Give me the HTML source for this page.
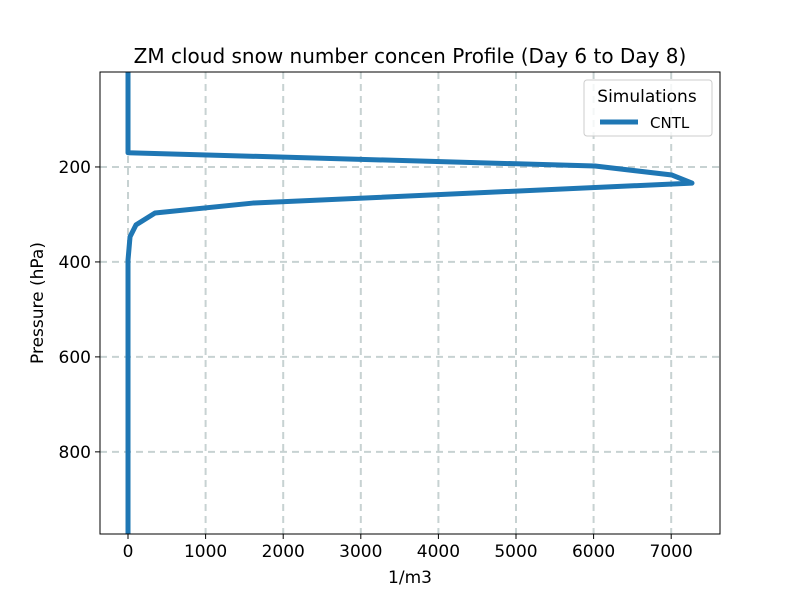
<!DOCTYPE html>
<html><head><meta charset="utf-8"><style>
body{margin:0;background:#fff;font-family:"Liberation Sans","DejaVu Sans",sans-serif}
</style></head><body>
<svg width="800" height="600" xmlns="http://www.w3.org/2000/svg" font-family="DejaVu Sans, Liberation Sans, sans-serif">
<g id="grid"></g>
<g id="axes"></g>
<path id="line" fill="none" stroke="#1f77b4" stroke-width="5" stroke-linejoin="round"/>
<rect x="100" y="72" width="620" height="462" fill="none" stroke="#000" stroke-width="1"/>
<text x="410" y="63" font-size="20" text-anchor="middle">ZM cloud snow number concen Profile (Day 6 to Day 8)</text>
<text x="410" y="583" font-size="17" text-anchor="middle">1/m3</text>
<text transform="translate(43,303) rotate(-90)" font-size="17" text-anchor="middle">Pressure (hPa)</text>
<g>
<rect x="584" y="80" width="128" height="56" rx="3" fill="#fff" fill-opacity="0.8" stroke="#ccc"/>
<text x="647" y="102" font-size="17" text-anchor="middle">Simulations</text>
<line x1="600" y1="122" x2="638" y2="122" stroke="#1f77b4" stroke-width="5"/>
<text x="650" y="128" font-size="15">CNTL</text>
</g>
</svg>
<script>
const pressures=[1,170,198,217,234,276,297,322,347,396,500,700,973];
const values=[0,0,6018,7010,7268,1611,348,103,26,0,0,0,0];
const xTicks=[0,1000,2000,3000,4000,5000,6000,7000];
const yTicks=[200,400,600,800];
const xMin=-361,xMax=7629,yMin=0,yMax=973;
const L=100,R=720,T=72,B=534;
const sx=v=>L+(v-xMin)/(xMax-xMin)*(R-L);
const sy=p=>T+(p-yMin)/(yMax-yMin)*(B-T);
const NS="http://www.w3.org/2000/svg";
const grid=document.getElementById('grid'),axes=document.getElementById('axes');
function mk(tag,attrs,parent){const e=document.createElementNS(NS,tag);for(const k in attrs)e.setAttribute(k,attrs[k]);parent.appendChild(e);return e;}
xTicks.forEach(t=>{const x=sx(t);
const g=mk('line',{x1:x,x2:x,y1:T,y2:B,stroke:'#b0bfbf','stroke-width':2,'stroke-dasharray':'7,5','opacity':0.7},grid);


mk('line',{x1:x,x2:x,y1:B,y2:B+5,stroke:'#000'},axes);
const tx=mk('text',{x:x,y:B+23,'font-size':17,'text-anchor':'middle'},axes);tx.textContent=t;

});
yTicks.forEach(t=>{const y=sy(t);
const g=mk('line',{x1:L,x2:R,y1:y,y2:y,stroke:'#b0bfbf','stroke-width':2,'stroke-dasharray':'7,5','opacity':0.7},grid);


mk('line',{x1:L-5,x2:L,y1:y,y2:y,stroke:'#000'},axes);
const tx=mk('text',{x:L-9,y:y+6,'font-size':17,'text-anchor':'end'},axes);tx.textContent=t;

});
document.getElementById('line').setAttribute('d',values.map((v,i)=>(i?'L':'M')+sx(v)+','+sy(pressures[i])).join(' '));
</script>
</body></html>
